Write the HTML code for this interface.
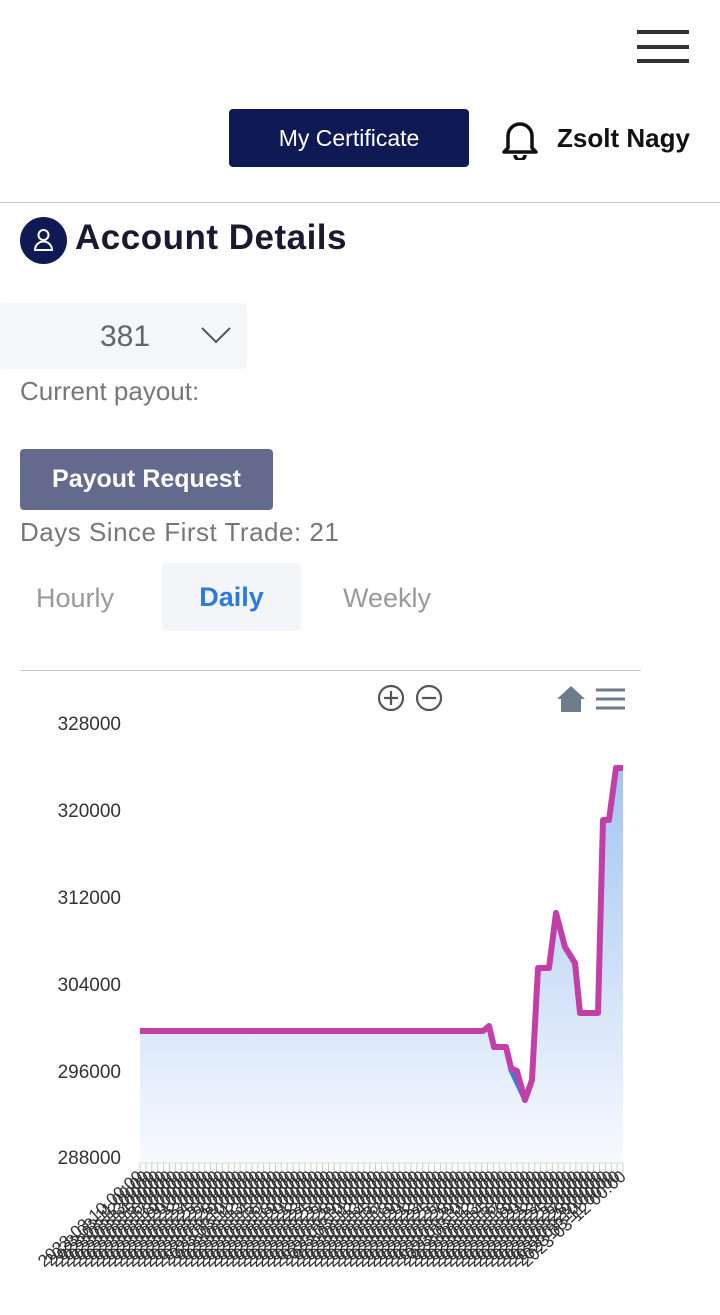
<!DOCTYPE html>
<html><head><meta charset="utf-8"><style>
body{margin:0;width:720px;height:1315px;background:#fff;font-family:"Liberation Sans",sans-serif;position:relative;overflow:hidden}
.a{position:absolute}
</style></head><body>
<div class="a" style="left:637px;top:30px;width:52px;height:4px;background:#333"></div>
<div class="a" style="left:637px;top:45px;width:52px;height:4px;background:#333"></div>
<div class="a" style="left:637px;top:59px;width:52px;height:4px;background:#333"></div>
<div class="a" style="left:229px;top:109px;width:240px;height:58px;background:#0f1a55;border-radius:4px;color:#fff;font-size:23px;line-height:58px;text-align:center">My Certificate</div>
<svg class="a" style="left:500px;top:118px" width="40" height="42" viewBox="0 0 40 42"><path d="M8 30 L8 18 A12 12 0 0 1 32 18 L32 30 L36 34 L4 34 Z" fill="none" stroke="#111" stroke-width="3.5" stroke-linejoin="round"/><path d="M15 37 A5 5 0 0 0 25 37" fill="none" stroke="#111" stroke-width="3.5"/></svg>
<div class="a" style="left:557px;top:123px;font-size:26px;font-weight:bold;color:#111">Zsolt Nagy</div>
<div class="a" style="left:0;top:202px;width:720px;height:1px;background:#ccc"></div>
<svg class="a" style="left:20px;top:217px" width="47" height="47"><circle cx="23.5" cy="23.5" r="23.5" fill="#0f1a55"/><circle cx="23.5" cy="18" r="5" fill="none" stroke="#fff" stroke-width="2"/><path d="M15 33 A8.5 8.5 0 0 1 32 33 Z" fill="none" stroke="#fff" stroke-width="2"/></svg>
<div class="a" style="left:75px;top:218px;font-size:35px;font-weight:bold;color:#1a1a2e;letter-spacing:0.5px">Account Details</div>
<div class="a" style="left:0;top:303px;width:247px;height:66px;background:#f5f6f8;border-radius:4px"></div>
<div class="a" style="left:100px;top:320px;font-size:30px;color:#666">381</div>
<svg class="a" style="left:200px;top:325px" width="32" height="20"><path d="M2 3 L16 17 L30 3" fill="none" stroke="#555" stroke-width="2"/></svg>
<div class="a" style="left:20px;top:376px;font-size:26px;color:#777">Current payout:</div>
<div class="a" style="left:20px;top:449px;width:253px;height:61px;background:#646a8d;border-radius:4px;color:#fff;font-size:25px;font-weight:bold;line-height:61px;text-align:center">Payout Request</div>
<div class="a" style="left:20px;top:517px;font-size:26px;color:#777;letter-spacing:0.5px">Days Since First Trade: 21</div>
<div class="a" style="left:36px;top:583px;font-size:27px;color:#999">Hourly</div>
<div class="a" style="left:162px;top:563px;width:139px;height:68px;background:#f3f5f8;border-radius:4px;color:#2a7ae2;font-size:27px;font-weight:bold;line-height:68px;text-align:center">Daily</div>
<div class="a" style="left:343px;top:583px;font-size:27px;color:#999">Weekly</div>
<div class="a" style="left:20px;top:670px;width:621px;height:1px;background:#ccc"></div>
<svg class="a" style="left:0;top:0" width="720" height="1315">
<defs><linearGradient id="g" x1="0" y1="0" x2="0" y2="1"><stop offset="0" stop-color="#a4c5ef"/><stop offset="1" stop-color="#f7faff"/></linearGradient></defs>
<g fill="none" stroke="#555" stroke-width="2.2"><circle cx="391" cy="698" r="12"/><path d="M384 698h14M391 691v14"/><circle cx="429" cy="698" r="12"/><path d="M422 698h14"/></g>
<path d="M557 699 L571 686 L585 699 L581 699 L581 712 L561 712 L561 699 Z" fill="#6e7b8b"/>
<g stroke="#6e7b8b" stroke-width="3"><path d="M596 690h29M596 699h29M596 708h29"/></g>
<g font-size="19" fill="#333" text-anchor="end"><text x="121" y="730">328000</text><text x="121" y="817">320000</text><text x="121" y="904">312000</text><text x="121" y="991">304000</text><text x="121" y="1078">296000</text><text x="121" y="1164">288000</text></g>
<path d="M140 1031 L483 1031 L489 1026 L494 1047 L506 1047 L511 1068 L517 1071 L525 1100 L532 1080 L538 968 L549 968 L556 913 L565 947 L575 963 L580 1013 L598 1013 L603 820 L609 820 L616 768 L623 768 L623 1163 L140 1163 Z" fill="url(#g)"/>
<path d="M510 1068 L518 1085 L525 1100" fill="none" stroke="#3a7bd5" stroke-width="5"/>
<path d="M140 1031 L483 1031 L489 1026 L494 1047 L506 1047 L511 1068 L517 1071 L525 1100 L532 1080 L538 968 L549 968 L556 913 L565 947 L575 963 L580 1013 L598 1013 L603 820 L609 820 L616 768 L623 768" fill="none" stroke="#c13fa7" stroke-width="6" stroke-linejoin="round"/>
<line x1="140" y1="1163" x2="623" y2="1163" stroke="#ddd"/>
<g id="t" stroke="#ccc" stroke-width="1"></g>
<g id="l" font-size="17" fill="#333" text-anchor="end"></g>
</svg>
<script>
var t=document.getElementById('t'),l=document.getElementById('l'),n=82,s='';var u='';
for(var i=0;i<=n;i++){var x=140+i*(483/n);s+='<line x1="'+x+'" y1="1163" x2="'+x+'" y2="1173"/>';
u+='<text transform="translate('+(x+4)+',1178) rotate(-42)">2023-03-'+(10+i%20)+' 00:00</text>';}
t.innerHTML=s;l.innerHTML=u;
</script>
</body></html>
